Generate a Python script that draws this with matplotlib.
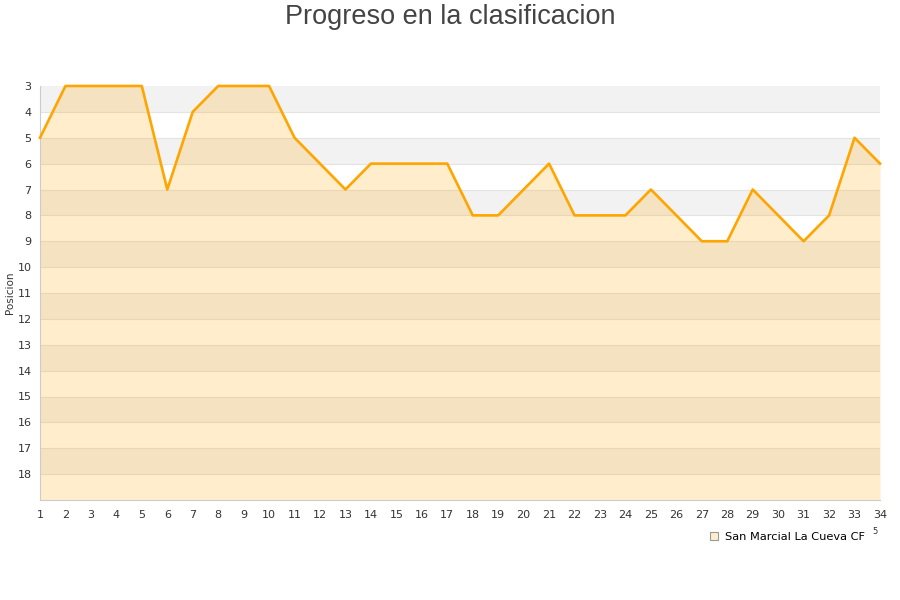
import numpy as np
import matplotlib.pyplot as plt
from matplotlib.lines import Line2D

# jornadas y posicion del equipo
jornadas = list(range(1, 35))
posicion = [5, 3, 3, 3, 3, 7, 4, 3, 3, 3,
            5, 6, 7, 6, 6, 6, 6, 8, 8, 7,
            6, 8, 8, 8, 7, 8, 9, 9, 7, 8,
            9, 8, 5, 6]
equipo = "San Marcial La Cueva CF"
titulo = "Progreso en la clasificacion"
y_ticks = list(range(3, 19))
y_min, y_max = 3, 19

naranja = '#FFA500'

fig = plt.figure(figsize=(9, 6), dpi=100, facecolor='white')
ax = fig.add_axes([40/900, 1-500/600, 840/900, 414/600])

# bandas alternas de fondo
for k in range(y_min, y_max):
    if k % 2 == 1:
        ax.axhspan(k, k+1, color='#f2f2f2', lw=0, zorder=0)
for k in range(y_min+1, y_max):
    ax.axhline(k, color='#e3e3e3', lw=0.8, zorder=0.5)

fill = ax.fill_between(jornadas, posicion, y_max, color=naranja, alpha=0.2,
                       lw=0, zorder=1)
ax.plot(jornadas, posicion, color=naranja, lw=1.9, zorder=3, clip_on=False)

ax.set_xlim(1, 34)
ax.set_ylim(y_max, y_min)
ax.set_xticks(jornadas)
ax.set_yticks(y_ticks)
ax.tick_params(axis='both', length=0, labelsize=8, colors='#333333')
ax.tick_params(axis='x', pad=7)
ax.tick_params(axis='y', pad=6)
for s in ['top', 'right']:
    ax.spines[s].set_visible(False)
for s in ['left', 'bottom']:
    ax.spines[s].set_color('#cccccc')
ax.set_ylabel('Posicion', fontsize=7.5, color='#333333')
ax.yaxis.set_label_coords(-25/840, 0.5)

fig.text(0.5, 1-17/600, titulo, ha='center', va='center', fontsize=19.5,
         color='#444444', family=['Liberation Sans', 'DejaVu Sans'])

handle = Line2D([], [], marker='s', ls='none', markersize=6,
                markerfacecolor='#ffedcc', markeredgecolor='#999999',
                markeredgewidth=0.8)
fig.legend([handle], [equipo], loc='center left',
           bbox_to_anchor=(703/900, 1-537/600), frameon=False, fontsize=8.2,
           handletextpad=0.4, handlelength=1.0, borderpad=0)
fig.text(875/900, 1-532/600, '5', fontsize=6, color='#333333',
         ha='center', va='center')

plt.savefig('out.png', dpi=100, facecolor=fig.get_facecolor())
